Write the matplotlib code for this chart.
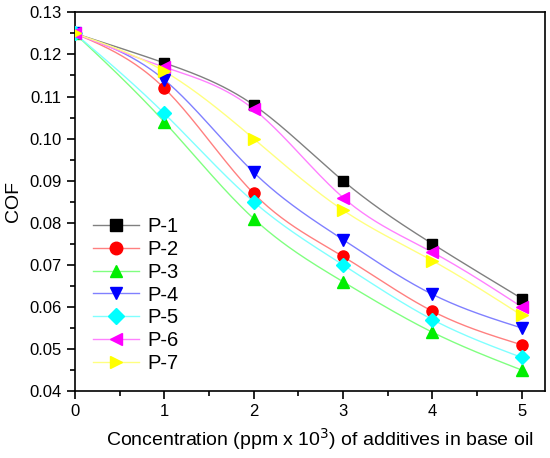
import matplotlib
matplotlib.use("Agg")
import matplotlib.pyplot as plt
import numpy as np

conc = [0, 1, 2, 3, 4, 5]
names = ["P-1", "P-2", "P-3", "P-4", "P-5", "P-6", "P-7"]
p1 = [0.125, 0.118, 0.108, 0.090, 0.075, 0.062]
p2 = [0.125, 0.112, 0.087, 0.072, 0.059, 0.051]
p3 = [0.125, 0.104, 0.081, 0.066, 0.054, 0.045]
p4 = [0.125, 0.114, 0.092, 0.076, 0.063, 0.055]
p5 = [0.125, 0.106, 0.085, 0.070, 0.057, 0.048]
p6 = [0.125, 0.117, 0.107, 0.086, 0.073, 0.060]
p7 = [0.125, 0.116, 0.100, 0.083, 0.071, 0.058]
series = [p1, p2, p3, p4, p5, p6, p7]

marker_cols = ["#000000", "#ff0000", "#00ee00", "#0000ff", "#00ffff", "#ff00ff", "#ffff00"]
line_cols = ["#808080", "#ff8080", "#80ff80", "#8080ff", "#80ffff", "#ff80ff", "#ffff80"]
markers = ["s", "o", "^", "v", "D", "<", ">"]
msizes = [7, 8, 8, 8, 7, 8, 8]


def spline(x, y, n=200):
    # natural cubic spline, just for drawing the smooth line
    x = np.asarray(x, float)
    y = np.asarray(y, float)
    k = len(x)
    h = np.diff(x)
    A = np.zeros((k, k))
    b = np.zeros(k)
    A[0, 0] = A[-1, -1] = 1
    for i in range(1, k - 1):
        A[i, i - 1] = h[i - 1]
        A[i, i] = 2 * (h[i - 1] + h[i])
        A[i, i + 1] = h[i]
        b[i] = 6 * ((y[i + 1] - y[i]) / h[i] - (y[i] - y[i - 1]) / h[i - 1])
    m = np.linalg.solve(A, b)
    xs = np.linspace(x[0], x[-1], n)
    idx = np.clip(np.searchsorted(x, xs) - 1, 0, k - 2)
    t0 = x[idx]
    t1 = x[idx + 1]
    hh = h[idx]
    ys = (m[idx] * (t1 - xs) ** 3 / (6 * hh) + m[idx + 1] * (xs - t0) ** 3 / (6 * hh)
          + (y[idx] / hh - m[idx] * hh / 6) * (t1 - xs)
          + (y[idx + 1] / hh - m[idx + 1] * hh / 6) * (xs - t0))
    return xs, ys


plt.rcParams['font.family'] = ['Liberation Sans', 'DejaVu Sans']
fig = plt.figure(figsize=(5.5, 4.58), dpi=100)
ax = fig.add_axes([0.136, 0.146, 0.855, 0.827])

for i, s in enumerate(series):
    xs, ys = spline(conc, s)
    ax.plot(xs, ys, color=line_cols[i], lw=1.0, zorder=2)
    ax.plot(conc, s, linestyle="none", marker=markers[i], color=marker_cols[i],
            markersize=msizes[i], zorder=3)
    # legend proxy
    ax.plot([], [], color=line_cols[i], lw=1.0, marker=markers[i],
            markerfacecolor=marker_cols[i], markeredgecolor=marker_cols[i],
            markersize=msizes[i] + 1, label=names[i])

ax.set_xlim(0, 5.26)
ax.set_ylim(0.04, 0.13)
ax.set_xticks([0, 1, 2, 3, 4, 5])
ax.set_xticks(np.arange(0.5, 5.2, 1), minor=True)
ax.set_yticks(np.arange(0.04, 0.1301, 0.01))
ax.set_yticks(np.arange(0.045, 0.13, 0.01), minor=True)
ax.yaxis.set_major_formatter(matplotlib.ticker.FormatStrFormatter("%.2f"))
ax.tick_params(which="major", length=6, width=1.2, labelsize=12)
ax.tick_params(which="minor", length=3.5, width=1.2)
for sp in ax.spines.values():
    sp.set_linewidth(1.2)

ax.set_ylabel("COF", fontsize=14, labelpad=5)
ax.set_xlabel("Concentration (ppm x 10$^3$) of additives in base oil", fontsize=14)
ax.xaxis.set_label_coords(0.52, -0.092)

leg = ax.legend(loc="lower left", bbox_to_anchor=(0.0, 0.0), frameon=False, fontsize=14.5,
                handlelength=2.3, handletextpad=0.4, labelspacing=0.19, borderaxespad=0.5)

fig.savefig("out.png", dpi=100)
